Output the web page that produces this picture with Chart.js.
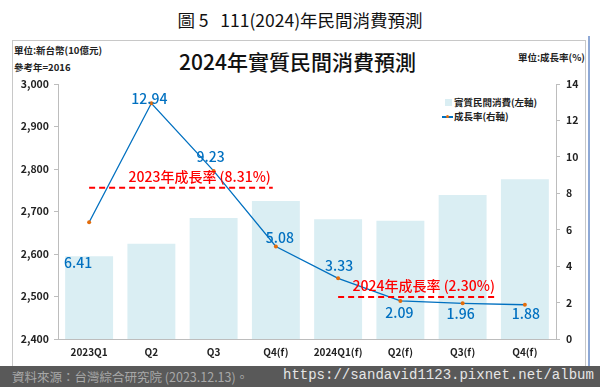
<!DOCTYPE html>
<html lang="zh-TW">
<head>
  <meta charset="UTF-8">
  <title>2024年實質民間消費預測</title>
  <script src="https://cdn.jsdelivr.net/npm/chart.js"></script>
  <style>
    body { margin:0; width:600px; height:387px; overflow:hidden; background:#fff;
           font-family:"Noto Sans CJK TC","Noto Sans",sans-serif; position:relative; }
    .abs { position:absolute; white-space:nowrap; }
    #frame { left:12px; top:40px; width:572px; height:326px; border:1px solid #c8c8c8; }
    #blueLine { left:588px; top:36px; width:2px; height:330px; background:#8fa9d6; }
    #wrap { position:absolute; left:0; top:0; width:600px; height:387px; }
    #footer { left:0; top:366px; width:600px; height:21px; background:#595959; }
  </style>
</head>
<body>

<div id="frame" class="abs"></div>
<div id="blueLine" class="abs"></div>

<div class="abs" style="left:0;width:600px;top:7px;text-align:center;font-size:17.5px;color:#111">圖 5&nbsp;&nbsp;&nbsp;111(2024)年民間消費預測</div>
<div class="abs" style="left:0;width:595px;top:46px;text-align:center;font-size:21px;font-weight:500;color:#111">2024年實質民間消費預測</div>
<div class="abs" style="left:14px;top:43px;font-size:9.5px;font-weight:bold;color:#222">單位:新台幣(10億元)</div>
<div class="abs" style="left:14px;top:60px;font-size:9.5px;font-weight:bold;color:#222">參考年=2016</div>
<div class="abs" style="left:518px;top:50px;font-size:9.5px;font-weight:bold;color:#222">單位:成長率(%)</div>

<!-- 圖例 -->
<div class="abs" style="left:445px;top:99px;width:7px;height:7px;background:#DAEEF3"></div>
<div class="abs" style="left:454px;top:95px;font-size:9.5px;font-weight:bold;color:#222">實質民間消費(左軸)</div>
<div class="abs" style="left:442px;top:116px;width:11px;height:1.5px;background:#0070C0"></div>
<div class="abs" style="left:446px;top:115px;width:3px;height:3px;border-radius:2px;background:#E46C0A"></div>
<div class="abs" style="left:454px;top:109px;font-size:9.5px;font-weight:bold;color:#222">成長率(右軸)</div>

<div id="wrap"><canvas id="consumoChart"></canvas></div>

<div id="footer" class="abs">
  <span class="abs" style="left:12px;top:1px;font-size:12.5px;color:#a8a8a8">資料來源：台灣綜合研究院 (2023.12.13)。</span>
  <span class="abs" style="left:283px;top:1px;font-family:'Liberation Mono',monospace;font-size:14px;color:#e6e6e6">https://sandavid1123.pixnet.net/album</span>
</div>

<script>
const categories  = ['2023Q1','Q2','Q3','Q4(f)','2024Q1(f)','Q2(f)','Q3(f)','Q4(f)'];
const consumption = [2595, 2624, 2685, 2725, 2682, 2678, 2739, 2776];   // 10億元, 左軸
const growth      = [6.41, 12.94, 9.23, 5.08, 3.33, 2.09, 1.96, 1.88];  // %, 右軸

// 年度成長率參考線 (起訖以類別位置表示)
const refNames  = ['2023年成長率 (8.31%)', '2024年成長率 (2.30%)'];
const refValues = [8.31, 2.30];
const refFrom   = [0, 4];
const refTo     = [2.95, 6.55];

// 數據標籤相對於點的位移 (px)
const labelShift = [[-11,40],[-2,-5],[-3,-14],[4,-9],[1,-13],[-1,12],[-2,10],[1,9]];

const tickFont = { family:'"Noto Sans CJK TC", sans-serif', size:10.5, weight:'bold' };

const overlay = {
  id:'overlay',
  afterDatasetsDraw(chart){
    const c = chart.ctx, x = chart.scales.x, y1 = chart.scales.y1;
    c.save();
    // 參考線
    refValues.forEach((v,i) => {
      const yy = y1.getPixelForValue(v);
      const xa = x.getPixelForValue(refFrom[i]), xb = x.getPixelForValue(refTo[i]);
      c.strokeStyle = '#FF0000'; c.lineWidth = 2; c.setLineDash([6,4]);
      c.beginPath(); c.moveTo(xa,yy); c.lineTo(xb,yy); c.stroke();
      c.setLineDash([]);
      c.fillStyle = '#FF0000';
      c.font = '500 14px "Noto Sans CJK TC", sans-serif';
      c.textAlign = 'right'; c.textBaseline = 'middle';
      c.fillText(refNames[i], xb - 2, yy - 11);
    });
    // 成長率標籤
    const meta = chart.getDatasetMeta(1);
    c.fillStyle = '#0070C0';
    c.font = '500 14px "Noto Sans CJK TC", sans-serif';
    c.textAlign = 'center'; c.textBaseline = 'middle';
    meta.data.forEach((pt,i) => {
      c.fillText(growth[i].toFixed(2), pt.x + labelShift[i][0], pt.y + labelShift[i][1]);
    });
    c.restore();
  }
};

new Chart(document.getElementById('consumoChart'), {
  data:{
    labels: categories,
    datasets:[
      { type:'bar', label:'實質民間消費(左軸)', data:consumption, yAxisID:'y',
        backgroundColor:'#DAEEF3', barPercentage:0.77, categoryPercentage:1, order:2 },
      { type:'line', label:'成長率(右軸)', data:growth, yAxisID:'y1',
        borderColor:'#0070C0', borderWidth:1.3, tension:0,
        pointRadius:2, pointBackgroundColor:'#E46C0A', pointBorderWidth:0, order:1 }
    ]
  },
  options:{
    responsive:true, maintainAspectRatio:false, animation:false,
    layout:{ padding:{ left:12, right:8, top:84, bottom:28 } },
    plugins:{ legend:{ display:false }, tooltip:{ enabled:false } },
    scales:{
      x:{
        grid:{ drawOnChartArea:false, drawTicks:false },
        border:{ color:'#bdbdbd' },
        ticks:{ font:{...tickFont, size:10}, color:'#222', padding:7, maxRotation:0 },
        afterFit: s => { s.height = 20; }
      },
      y:{
        position:'left', min:2400, max:3000,
        grid:{ drawOnChartArea:false, tickLength:4, color:'#bdbdbd' },
        border:{ color:'#bdbdbd' },
        ticks:{ stepSize:100, font:tickFont, color:'#222', padding:5,
                callback: v => v.toLocaleString('en-US') },
        afterFit: s => { s.width = 46; }
      },
      y1:{
        position:'right', min:0, max:14,
        grid:{ drawOnChartArea:false, tickLength:4, color:'#bdbdbd' },
        border:{ color:'#bdbdbd' },
        ticks:{ stepSize:2, font:tickFont, color:'#222', padding:6 },
        afterFit: s => { s.width = 36; }
      }
    }
  },
  plugins:[overlay]
});
</script>
</body>
</html>
